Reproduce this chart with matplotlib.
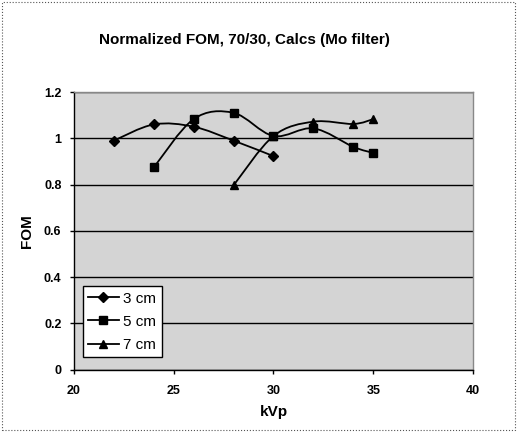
import numpy as np
import matplotlib
matplotlib.use("Agg")
import matplotlib.pyplot as plt
from matplotlib.path import Path
from matplotlib.patches import PathPatch
from matplotlib.lines import Line2D

plt.rcParams['font.family'] = ['Liberation Sans', 'DejaVu Sans']

# Data
kvp_3cm = [22, 24, 26, 28, 30]
fom_3cm = [0.99, 1.06, 1.05, 0.99, 0.923]
kvp_5cm = [24, 26, 28, 30, 32, 34, 35]
fom_5cm = [0.874, 1.083, 1.11, 1.01, 1.043, 0.963, 0.937]
kvp_7cm = [28, 30, 32, 34, 35]
fom_7cm = [0.797, 1.01, 1.072, 1.062, 1.083]
series_labels = ["3 cm", "5 cm", "7 cm"]
markers = ["D", "s", "^"]


def smooth_path(x, y):
    # Excel-style smoothed line: cubic Bezier segments through the points
    x = np.asarray(x, float)
    y = np.asarray(y, float)
    verts = [(x[0], y[0])]
    codes = [Path.MOVETO]
    n = len(x)
    for i in range(n - 1):
        p0 = np.array([x[max(i - 1, 0)], y[max(i - 1, 0)]])
        p1 = np.array([x[i], y[i]])
        p2 = np.array([x[i + 1], y[i + 1]])
        p3 = np.array([x[min(i + 2, n - 1)], y[min(i + 2, n - 1)]])
        c1 = p1 + (p2 - p0) / 6.0
        c2 = p2 - (p3 - p1) / 6.0
        verts += [tuple(c1), tuple(c2), tuple(p2)]
        codes += [Path.CURVE4] * 3
    return Path(verts, codes)


fig = plt.figure(figsize=(5.17, 4.32), dpi=100)
ax = fig.add_axes([0.143, 0.144, 0.772, 0.643])
ax.set_facecolor('#d4d4d4')

for xs, ys, m, lab in zip([kvp_3cm, kvp_5cm, kvp_7cm],
                          [fom_3cm, fom_5cm, fom_7cm], markers, series_labels):
    ax.add_patch(PathPatch(smooth_path(xs, ys), facecolor='none',
                           edgecolor='black', lw=1.3, zorder=3))
    ax.plot(xs, ys, linestyle='none', marker=m, color='black',
            markersize=6 if m != 'D' else 5, zorder=4)

ax.set_xlim(20, 40)
ax.set_ylim(0, 1.2)
ax.set_xticks([20, 25, 30, 35, 40])
ax.set_yticks([0, 0.2, 0.4, 0.6, 0.8, 1, 1.2])
ax.set_yticklabels(["0", "0.2", "0.4", "0.6", "0.8", "1", "1.2"])
ax.yaxis.grid(True, color='black', lw=1.0)
ax.set_axisbelow(True)
for lbl in ax.get_xticklabels() + ax.get_yticklabels():
    lbl.set_fontweight('bold')
    lbl.set_fontsize(9)
ax.tick_params(axis='x', direction='out', length=3, width=1, pad=8)
ax.tick_params(axis='y', direction='out', length=3, width=1, pad=6)
for s in ax.spines.values():
    s.set_linewidth(1.0)
    s.set_color('black')
for s in ['top', 'right']:
    ax.spines[s].set_color('#888888')

ax.set_xlabel("kVp", fontsize=11, fontweight='bold', labelpad=6)
ax.set_ylabel("FOM", fontsize=11, fontweight='bold', labelpad=7)
fig.text(0.473, 0.908, "Normalized FOM, 70/30, Calcs (Mo filter)",
         ha='center', va='center', fontsize=11, fontweight='bold')

handles = [Line2D([0], [0], color='black', lw=1.3, marker=m,
                  markersize=6 if m != 'D' else 5) for m in markers]
leg = ax.legend(handles, series_labels, loc='lower left',
                bbox_to_anchor=(0.022, 0.045), fontsize=11, frameon=True,
                fancybox=False, edgecolor='black', framealpha=1,
                handlelength=2.0, borderpad=0.35, labelspacing=0.6,
                handletextpad=0.3, borderaxespad=0.0)
leg.get_frame().set_linewidth(1.0)

fig.patches.append(plt.Rectangle((0.004, 0.004), 0.992, 0.992,
                                 transform=fig.transFigure, fill=False,
                                 edgecolor='#555555', lw=0.8, ls=':'))

fig.savefig("out.png", dpi=100)
